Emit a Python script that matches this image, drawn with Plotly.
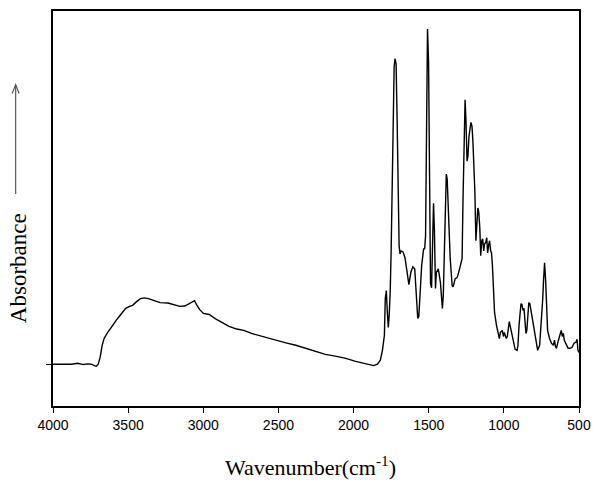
import plotly.graph_objects as go

# IR spectrum, wavenumber (cm-1) and absorbance (a.u.)
wavenumber = [4000, 3954, 3915, 3876, 3836, 3797, 3771, 3745, 3725, 3712, 3699, 3686, 3673, 3660,
              3640, 3614, 3581, 3549, 3516, 3490, 3470, 3444, 3418, 3392, 3365, 3326, 3287, 3235,
              3195, 3156, 3123, 3091, 3071, 3058, 3045, 3025, 2999, 2960, 2921, 2881, 2829, 2777,
              2731, 2679, 2633, 2580, 2515, 2450, 2384, 2319, 2253, 2188, 2122, 2057, 1992, 1939,
              1900, 1867, 1841, 1822, 1808, 1795, 1789, 1782, 1776, 1769, 1763, 1756, 1750, 1743,
              1737, 1730, 1724, 1717, 1710, 1704, 1697, 1691, 1684, 1671, 1658, 1645, 1632, 1619,
              1606, 1593, 1586, 1580, 1573, 1566, 1560, 1547, 1534, 1527, 1521, 1514, 1508, 1501,
              1495, 1488, 1481, 1475, 1468, 1462, 1455, 1449, 1436, 1422, 1409, 1403, 1396, 1390,
              1383, 1377, 1370, 1357, 1344, 1337, 1324, 1311, 1298, 1285, 1278, 1272, 1265, 1258,
              1252, 1245, 1239, 1232, 1219, 1212, 1206, 1199, 1193, 1186, 1180, 1173, 1167, 1160,
              1154, 1147, 1141, 1134, 1128, 1121, 1114, 1108, 1101, 1095, 1088, 1082, 1076, 1069,
              1062, 1049, 1043, 1030, 1023, 1010, 1003, 997, 984, 977, 964, 951, 938, 925, 912,
              906, 899, 886, 879, 873, 866, 860, 853, 847, 840, 834, 827, 820, 807, 794, 781, 775,
              762, 749, 742, 736, 729, 722, 716, 709, 696, 683, 670, 663, 657, 650, 637, 631, 624,
              618, 611, 604, 598, 585, 572, 559, 546, 533, 520, 513, 507, 500]
absorbance = [0.000, 0.000, 0.001, 0.000, 0.003, -0.001, 0.001, 0.000, -0.004, -0.006, 0.000, 0.021,
              0.056, 0.076, 0.091, 0.109, 0.129, 0.147, 0.165, 0.171, 0.174, 0.185, 0.194, 0.196,
              0.194, 0.188, 0.182, 0.181, 0.176, 0.171, 0.172, 0.179, 0.185, 0.188, 0.176, 0.162,
              0.150, 0.147, 0.135, 0.124, 0.112, 0.104, 0.100, 0.091, 0.085, 0.079, 0.071, 0.063,
              0.056, 0.047, 0.038, 0.029, 0.024, 0.018, 0.009, 0.004, -0.001, -0.004, 0.000, 0.012,
              0.041, 0.085, 0.194, 0.218, 0.159, 0.109, 0.144, 0.218, 0.335, 0.512, 0.718, 0.879,
              0.903, 0.888, 0.718, 0.482, 0.350, 0.326, 0.335, 0.332, 0.315, 0.276, 0.235, 0.271,
              0.288, 0.282, 0.232, 0.174, 0.135, 0.141, 0.188, 0.291, 0.341, 0.341, 0.379, 0.629,
              0.991, 0.894, 0.482, 0.238, 0.226, 0.335, 0.476, 0.394, 0.224, 0.271, 0.282, 0.241,
              0.165, 0.203, 0.365, 0.512, 0.562, 0.547, 0.453, 0.312, 0.232, 0.229, 0.253, 0.256,
              0.276, 0.300, 0.312, 0.482, 0.688, 0.782, 0.718, 0.600, 0.615, 0.674, 0.715, 0.703,
              0.659, 0.600, 0.512, 0.365, 0.424, 0.462, 0.450, 0.403, 0.321, 0.365, 0.371, 0.335,
              0.356, 0.359, 0.374, 0.329, 0.353, 0.365, 0.335, 0.329, 0.291, 0.218, 0.153, 0.115,
              0.100, 0.076, 0.094, 0.100, 0.082, 0.094, 0.076, 0.082, 0.126, 0.100, 0.065, 0.044,
              0.041, 0.056, 0.115, 0.179, 0.176, 0.159, 0.165, 0.135, 0.091, 0.100, 0.153, 0.182,
              0.179, 0.159, 0.129, 0.085, 0.047, 0.041, 0.056, 0.135, 0.188, 0.247, 0.300, 0.247,
              0.159, 0.100, 0.076, 0.062, 0.056, 0.071, 0.053, 0.047, 0.071, 0.079, 0.088, 0.100,
              0.082, 0.091, 0.071, 0.056, 0.047, 0.047, 0.050, 0.062, 0.065, 0.074, 0.041, 0.035]

x_ticks = [4000, 3500, 3000, 2500, 2000, 1500, 1000, 500]

fig = go.Figure()
fig.add_trace(go.Scatter(x=wavenumber, y=absorbance, mode="lines",
                         line=dict(color="black", width=1.4), showlegend=False))

# arrow next to the y title (paper coordinates)
ax_x = -0.071
tip_y = 0.8136
tail_y = 0.5365
dx = 3.5 / 535
dy = 9 / 397
arrow_col = "#555555"

fig.update_layout(
    width=600, height=483,
    margin=dict(l=53, r=12, t=9, b=77),
    paper_bgcolor="white", plot_bgcolor="white",
    xaxis=dict(range=[4000, 500], tickvals=x_ticks, ticktext=[str(v) for v in x_ticks],
               ticks="outside", ticklen=5, tickwidth=1.2, tickcolor="black",
               showline=True, linecolor="black", linewidth=1.5, mirror=True,
               showgrid=False, zeroline=False,
               tickfont=dict(family="Liberation Sans, Arial", size=14, color="black")),
    yaxis=dict(range=[-0.1235, 1.0441], tickvals=[0], showticklabels=False,
               ticks="outside", ticklen=5, tickwidth=1.2, tickcolor="black",
               showline=True, linecolor="black", linewidth=1.5, mirror=True,
               showgrid=False, zeroline=False),
    annotations=[
        dict(text="Wavenumber(cm<sup>-1</sup>)", xref="paper", yref="paper",
             x=0.489, y=-0.151, xanchor="center", yanchor="middle", showarrow=False,
             font=dict(family="Liberation Serif, Times New Roman", size=22, color="black")),
        dict(text="Absorbance", xref="paper", yref="paper", textangle=-90,
             x=-0.0654, y=0.348, xanchor="center", yanchor="middle", showarrow=False,
             font=dict(family="Liberation Serif, Times New Roman", size=23, color="black")),
    ],
    shapes=[
        dict(type="line", xref="paper", yref="paper", x0=ax_x, x1=ax_x, y0=tail_y, y1=tip_y,
             line=dict(color=arrow_col, width=1.2)),
        dict(type="path", xref="paper", yref="paper",
             path=f"M {ax_x - dx} {tip_y - dy} L {ax_x} {tip_y} L {ax_x + dx} {tip_y - dy}",
             line=dict(color=arrow_col, width=1.2)),
    ],
)

fig.write_html("out.html")
